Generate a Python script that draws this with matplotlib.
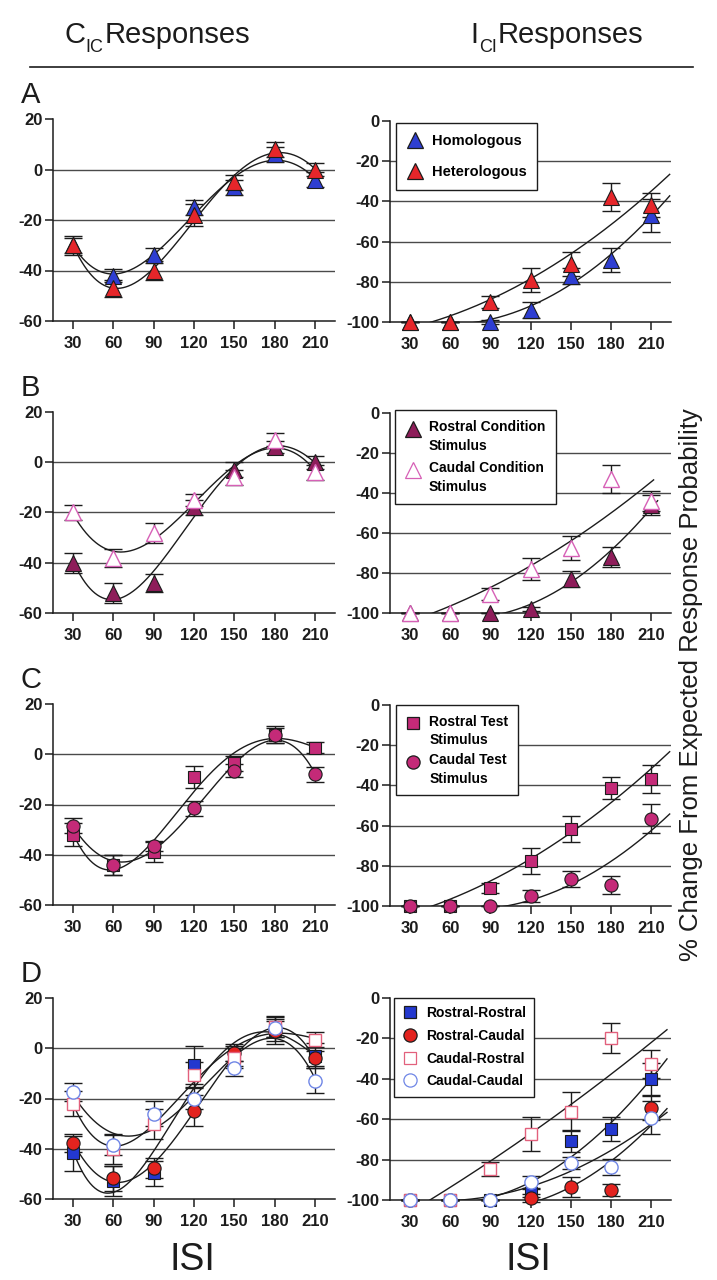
import numpy as np
import matplotlib
matplotlib.use("Agg")
import matplotlib.pyplot as plt
from matplotlib.lines import Line2D
from matplotlib.text import Annotation
from matplotlib.legend_handler import HandlerLine2D

# ---------------- data ----------------
isi = [30, 60, 90, 120, 150, 180, 210]
isi_labels = ["30", "60", "90", "120", "150", "180", "210"]
left_yticks = [20, 0, -20, -40, -60]
right_yticks = [0, -20, -40, -60, -80, -100]
left_grid = [0, -20, -40]
right_grid = [-20, -40, -60, -80]

# A: Homologous / Heterologous
a_cic_homo = [-30, -42, -34, -15, -7, 6, -4]
a_cic_homo_err = [3, 2.5, 3, 3, 3, 3, 3]
a_cic_hetero = [-30, -47, -40, -18, -5, 8, 0]
a_cic_hetero_err = [3.7, 3.3, 3.7, 4.5, 3, 3, 2.5]
a_ici_homo = [-100, -100, -100, -94, -77, -69, -47]
a_ici_homo_err = [0, 0, 1, 4, 4, 6, 8]
a_ici_hetero = [-100, -100, -90, -79, -71, -38, -42]
a_ici_hetero_err = [0, 0, 3, 6, 6, 7, 6]

# B: Rostral / Caudal condition stimulus
b_cic_rostral = [-40, -52, -48, -18, -3, 6, 0]
b_cic_rostral_err = [4, 4, 3.5, 3, 3, 2.5, 2.5]
b_cic_caudal = [-20, -38, -28, -15, -6, 9, -4]
b_cic_caudal_err = [3, 3.5, 4, 2.5, 3, 2.5, 3]
b_ici_rostral = [-100, -100, -100, -98, -83, -72, -46]
b_ici_rostral_err = [0, 0, 0, 1, 4, 5, 5]
b_ici_caudal = [-100, -100, -90.5, -78, -67.5, -33, -44]
b_ici_caudal_err = [0, 0, 3, 5.5, 6, 7, 5]

# C: Rostral / Caudal test stimulus
c_cic_rostral = [-32, -44, -39, -9, -3.5, 7.8, 2.5]
c_cic_rostral_err = [4.5, 4, 4, 4.5, 3, 3.5, 2.2]
c_cic_caudal = [-28.5, -44, -36.5, -21.5, -6.5, 7.5, -8]
c_cic_caudal_err = [3, 4, 2, 3, 2.5, 3, 3]
c_ici_rostral = [-100, -100, -91, -77.5, -61.5, -41.5, -37]
c_ici_rostral_err = [0, 0, 2.5, 6.5, 6.5, 5.5, 7]
c_ici_caudal = [-100, -100, -100, -95, -86.5, -89.5, -56.5]
c_ici_caudal_err = [0, 0, 0, 3, 4, 4.5, 7]

# D: four combinations
d_cic_rr = [-41.8, -53, -49.8, -6.6, -2.7, 7.3, -3]
d_cic_rr_err = [7, 6, 5, 7.5, 4.5, 5.5, 5]
d_cic_rc = [-37.8, -51.8, -47.8, -24.8, -2, 7, -4]
d_cic_rc_err = [3.5, 5, 4, 6, 3, 4, 3]
d_cic_cr = [-22, -40, -30, -10.6, -4, 8.6, 3.3]
d_cic_cr_err = [5, 6, 6, 5, 4, 4, 3]
d_cic_cc = [-17.5, -38.5, -26, -20, -8, 8, -13]
d_cic_cc_err = [3.5, 4, 5, 4, 3, 3.5, 5]
d_ici_rr = [-100, -100, -100, -96.7, -70.6, -65, -40.2]
d_ici_rr_err = [0, 0, 0, 2, 5.5, 6, 8]
d_ici_rc = [-100, -100, -100, -99, -93.7, -95, -54.5]
d_ici_rc_err = [0, 0, 0, 2, 5, 3, 6]
d_ici_cr = [-100, -100, -84.6, -67.3, -56.2, -19.7, -32.6]
d_ici_cr_err = [0, 0, 3.5, 8.5, 9.5, 7.5, 7]
d_ici_cc = [-100, -100, -100, -91, -81.8, -83.5, -59.2]
d_ici_cc_err = [0, 0, 0, 3, 3, 4, 8]

# ---------------- style ----------------
plt.rcParams["font.family"] = ["Liberation Sans", "DejaVu Sans"]

W, H = 717, 1280
fig = plt.figure(figsize=(W / 100, H / 100), dpi=100)
fig.patch.set_facecolor("white")

INK = "#1c1c1c"
GRID = "#4a4a4a"
BLUE = "#2e3ed2"
RED = "#e6262a"
MAROON = "#8e1d5a"
PINK = "#d660b6"
MAGENTA = "#c42a78"
D_BLUE = "#2338cf"
D_RED = "#e3231f"
D_PINK = "#e2607c"
D_LBLUE = "#6f86e6"


def make_ax(l, t, r, b):
    return fig.add_axes([l / W, 1 - b / H, (r - l) / W, (b - t) / H])


def style_ax(ax, ylim, yticks, grid):
    ax.set_xlim(15, 225)
    ax.set_ylim(*ylim)
    for s in ("top", "right"):
        ax.spines[s].set_visible(False)
    for s in ("left", "bottom"):
        ax.spines[s].set_color(INK)
        ax.spines[s].set_linewidth(1.1)
    ax.set_xticks(isi)
    ax.set_xticklabels(isi_labels)
    ax.set_yticks(yticks)
    ax.set_yticklabels([str(v) for v in yticks])
    ax.tick_params(axis="x", direction="out", length=6, width=1.1, color=INK,
                   pad=5, labelsize=12)
    ax.tick_params(axis="y", direction="out", length=6, width=1.1, color=INK,
                   pad=1.5, labelsize=12)
    for lab in ax.get_xticklabels() + ax.get_yticklabels():
        lab.set_fontweight("bold")
        lab.set_color(INK)
    for g in grid:
        ax.axhline(g, color=GRID, lw=1.0, zorder=1)
    ax.set_facecolor("none")


def series(ax, y, err, marker, ms, face, edge, mew=0.8):
    ax.errorbar(isi, y, yerr=err, fmt="none", ecolor=INK, elinewidth=1.0,
                capsize=6.5, capthick=1.0, zorder=4, clip_on=False)
    ax.plot(isi, y, ls="none", marker=marker, ms=ms, mfc=face, mec=edge,
            mew=mew, zorder=5, clip_on=False)


def left_fit(ax, y):
    c = np.polyfit(isi, y, 4)
    xs = np.linspace(isi[0], isi[-1], 300)
    ax.plot(xs, np.polyval(c, xs), color=INK, lw=1.0, zorder=3)


def right_fit(ax, y, xend=224):
    c = np.polyfit(isi, y, 2)
    start = isi[0]
    if c[0] > 0:
        start = max(start, -c[1] / (2 * c[0]))
    xs = np.linspace(start, xend, 300)
    ax.plot(xs, np.polyval(c, xs), color=INK, lw=1.0, zorder=3)


class FirstLineHandler(HandlerLine2D):
    def __init__(self, shift=0.0, **kw):
        super().__init__(**kw)
        self.shift = shift

    def create_artists(self, legend, orig_handle, xdescent, ydescent, width,
                       height, fontsize, trans):
        arts = super().create_artists(legend, orig_handle, xdescent, ydescent,
                                      width, height, fontsize, trans)
        for a in arts:
            a.set_ydata(np.asarray(a.get_ydata()) + self.shift * fontsize)
        return arts


def legend(ax, handles, labels, x, y, size=10, shift=0.0, spacing=0.6,
           pad=0.7, linespacing=1.2):
    hmap = {hd: FirstLineHandler(shift=shift, numpoints=1) for hd in handles}
    lg = ax.legend(handles, labels, loc="upper left",
                   bbox_to_anchor=(x / W, 1 - y / H),
                   bbox_transform=fig.transFigure, borderaxespad=0,
                   frameon=True, fancybox=False, framealpha=1,
                   edgecolor=INK, prop={"weight": "bold", "size": size},
                   handlelength=1.1, handletextpad=0.6, borderpad=pad,
                   labelspacing=spacing, handler_map=hmap)
    lg.get_frame().set_linewidth(1.0)
    for t in lg.get_texts():
        t.set_linespacing(linespacing)
    lg.set_zorder(6)
    return lg


def h(marker, face, edge, ms):
    return Line2D([], [], ls="none", marker=marker, mfc=face, mec=edge, ms=ms,
                  mew=0.9)


rows_left = [(119, 321), (412, 613), (704, 905), (998, 1199)]
rows_right = [(121, 322), (413, 613), (705, 906), (998, 1200)]
axL = [make_ax(53, t, 335, b) for t, b in rows_left]
axR = [make_ax(390, t, 671, b) for t, b in rows_right]
for ax in axL:
    style_ax(ax, (-60, 20), left_yticks, left_grid)
for ax in axR:
    style_ax(ax, (-100, 0), right_yticks, right_grid)

TRI = 11.5
# ----- A -----
ax = axL[0]
left_fit(ax, a_cic_homo)
left_fit(ax, a_cic_hetero)
series(ax, a_cic_homo, a_cic_homo_err, "^", TRI, BLUE, INK)
series(ax, a_cic_hetero, a_cic_hetero_err, "^", TRI, RED, INK)
ax = axR[0]
right_fit(ax, a_ici_homo)
right_fit(ax, a_ici_hetero)
series(ax, a_ici_homo, a_ici_homo_err, "^", TRI, BLUE, INK)
series(ax, a_ici_hetero, a_ici_hetero_err, "^", TRI, RED, INK)
legend(ax, [h("^", BLUE, INK, TRI), h("^", RED, INK, TRI)],
       ["Homologous", "Heterologous"], 396, 123, size=10.5, spacing=1.15,
       pad=0.75)

# ----- B -----
ax = axL[1]
left_fit(ax, b_cic_rostral)
left_fit(ax, b_cic_caudal)
series(ax, b_cic_rostral, b_cic_rostral_err, "^", TRI, MAROON, INK)
series(ax, b_cic_caudal, b_cic_caudal_err, "^", TRI, "white", PINK, 1.0)
ax = axR[1]
right_fit(ax, b_ici_rostral, 215)
right_fit(ax, b_ici_caudal, 212)
series(ax, b_ici_rostral, b_ici_rostral_err, "^", TRI, MAROON, INK)
series(ax, b_ici_caudal, b_ici_caudal_err, "^", TRI, "white", PINK, 1.0)
legend(ax, [h("^", MAROON, INK, TRI), h("^", "white", PINK, TRI)],
       ["Rostral Condition\nStimulus", "Caudal Condition\nStimulus"],
       395, 410, size=10, shift=0.6, spacing=0.55, pad=0.75, linespacing=1.45)

# ----- C -----
ax = axL[2]
left_fit(ax, c_cic_rostral)
left_fit(ax, c_cic_caudal)
series(ax, c_cic_rostral, c_cic_rostral_err, "s", 9, MAGENTA, INK)
series(ax, c_cic_caudal, c_cic_caudal_err, "o", 9.5, MAGENTA, INK)
ax = axR[2]
right_fit(ax, c_ici_rostral)
right_fit(ax, c_ici_caudal)
series(ax, c_ici_rostral, c_ici_rostral_err, "s", 9, MAGENTA, INK)
series(ax, c_ici_caudal, c_ici_caudal_err, "o", 9.5, MAGENTA, INK)
legend(ax, [h("s", MAGENTA, INK, 9), h("o", MAGENTA, INK, 9.5)],
       ["Rostral Test\nStimulus", "Caudal Test\nStimulus"],
       396, 705, size=10, shift=0.6, spacing=0.45, pad=0.7, linespacing=1.4)

# ----- D -----
ax = axL[3]
for y in (d_cic_rr, d_cic_rc, d_cic_cr, d_cic_cc):
    left_fit(ax, y)
series(ax, d_cic_rr, d_cic_rr_err, "s", 8.5, D_BLUE, INK)
series(ax, d_cic_rc, d_cic_rc_err, "o", 9.5, D_RED, INK)
series(ax, d_cic_cr, d_cic_cr_err, "s", 9, "white", D_PINK, 1.0)
series(ax, d_cic_cc, d_cic_cc_err, "o", 9.5, "white", D_LBLUE, 1.0)
ax = axR[3]
for y in (d_ici_rr, d_ici_rc, d_ici_cr, d_ici_cc):
    right_fit(ax, y, 222)
series(ax, d_ici_rr, d_ici_rr_err, "s", 8.5, D_BLUE, INK)
series(ax, d_ici_rc, d_ici_rc_err, "o", 9.5, D_RED, INK)
series(ax, d_ici_cr, d_ici_cr_err, "s", 9, "white", D_PINK, 1.0)
series(ax, d_ici_cc, d_ici_cc_err, "o", 9.5, "white", D_LBLUE, 1.0)
legend(ax, [h("s", D_BLUE, INK, 8.5), h("o", D_RED, INK, 9.5),
            h("s", "white", D_PINK, 9), h("o", "white", D_LBLUE, 9.5)],
       ["Rostral-Rostral", "Rostral-Caudal", "Caudal-Rostral", "Caudal-Caudal"],
       394, 998, size=10, spacing=0.62, pad=0.6)

# ---------------- figure text ----------------
for lab, (t, b) in zip("ABCD", rows_left):
    fig.text(21 / W, 1 - (t - 16) / H, lab, fontsize=21,
             ha="left", va="baseline", color=INK)

for xc in (192, 528):
    fig.text(xc / W, 1 - 1270 / H, "ISI", fontsize=27, ha="center",
             va="baseline", color=INK)

fig.text(691 / W, 1 - 685 / H, "% Change From Expected Response Probability",
         rotation=90, fontsize=18.5, ha="center", va="center", color=INK)


def header(x, main, sub):
    t1 = fig.text(x / W, 1 - 43 / H, main, fontsize=21, ha="left",
                  va="baseline", color=INK)
    t2 = Annotation(sub, xy=(1, 0), xycoords=t1, xytext=(0.5, -5),
                    textcoords="offset points", fontsize=13, ha="left",
                    va="bottom", color=INK)
    fig.add_artist(t2)
    t3 = Annotation("Responses", xy=(1, 0), xycoords=(t2, t1),
                    xytext=(0.5, 0), textcoords="offset points",
                    fontsize=21, ha="left", va="bottom", color=INK)
    fig.add_artist(t3)


header(64, "C", "IC")
header(470, "I", "CI")
fig.add_artist(Line2D([30 / W, 693 / W], [1 - 67 / H] * 2,
                      transform=fig.transFigure, color=INK, lw=1.2))

fig.savefig("out.png", dpi=100, facecolor="white")
